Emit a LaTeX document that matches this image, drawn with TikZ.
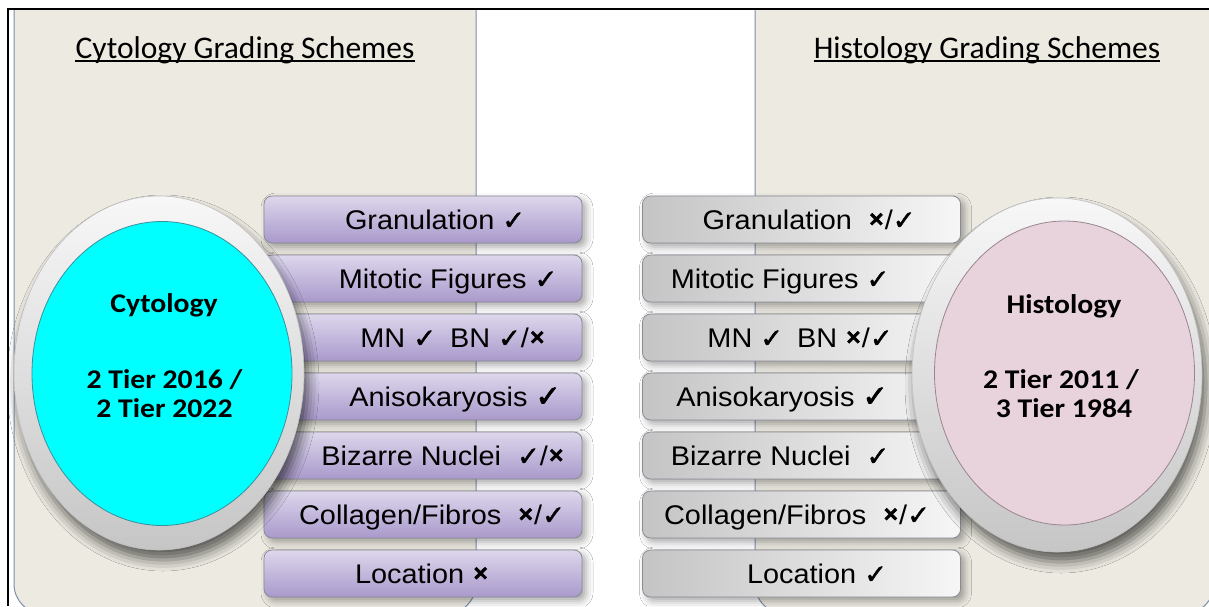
\documentclass[tikz,border=0pt]{standalone}
\usepackage{fontspec}
\setmainfont{Liberation Sans}
\newfontfamily\boxfont[FakeStretch=1.07]{Liberation Sans}
\newfontfamily\titlefont{Carlito}
\newfontfamily\ellfont[FakeStretch=1.1]{Carlito}
\newfontfamily\symfont[FakeBold=1.6]{DejaVu Sans}
\newfontfamily\symfontb[FakeBold=2.5]{DejaVu Sans}
\newfontfamily\symfontx[FakeBold=3.5]{DejaVu Sans}
\usetikzlibrary{shapes.geometric,shadows.blur}

\definecolor{panelfill}{HTML}{ECEAE1}
\definecolor{panelline}{HTML}{7D8FAA}
\definecolor{purtop}{HTML}{DDD7EC}
\definecolor{purbot}{HTML}{A999CB}
\definecolor{boxline}{HTML}{8A8A96}
\definecolor{grayleft}{HTML}{C4C4C4}
\definecolor{grayright}{HTML}{F6F6F6}
\definecolor{cyanfill}{HTML}{00FFFF}
\definecolor{cyanline}{HTML}{3C8E9C}
\definecolor{pinkfill}{HTML}{E8D2DC}
\definecolor{pinkline}{HTML}{9A8590}

\newcommand\ck{{\symfont ✓}}
\newcommand\ckb{{\symfontb\fontsize{30}{30}\selectfont ✓}}
\newcommand\xm{{\symfontx\bfseries\fontsize{20}{20}\selectfont\raisebox{4pt}{×}}}

\begin{document}
\begin{tikzpicture}[x=1pt,y=-1pt,
  boxbase/.style={draw=boxline, line width=0.8pt, rounded corners=8pt,
    minimum width=318pt, minimum height=47pt, inner sep=0pt,
    blur shadow={shadow xshift=4pt, shadow yshift=-4pt, shadow blur radius=7pt, shadow opacity=35}},
  purbox/.style={boxbase, top color=purtop, bottom color=purbot},
  graybox/.style={boxbase, left color=grayleft, right color=grayright},
  btext/.style={font=\boxfont\fontsize{27}{27}\selectfont, inner sep=0pt, anchor=base},
  ttext/.style={font=\titlefont\fontsize{31.5}{31.5}\selectfont, inner sep=0pt, anchor=base},
  etext/.style={font=\ellfont\bfseries\fontsize{27}{27}\selectfont, inner sep=0pt, anchor=base},
  ring/.style={ellipse, minimum width=290pt, minimum height=354pt, inner sep=0pt,
    top color=gray!6, bottom color=gray!45, draw=gray!50, line width=0.6pt,
    blur shadow={shadow xshift=4pt, shadow yshift=-10pt, shadow blur radius=11pt, shadow opacity=60}},
  core/.style={ellipse, minimum width=260pt, minimum height=304pt, inner sep=0pt, line width=0.8pt},
  panel/.style={draw=panelline, fill=panelfill, line width=1pt, rounded corners=30pt}
]
\useasboundingbox (0,0) rectangle (1209,606);
\clip (0,0) rectangle (1209,606);
\fill[white] (0,0) rectangle (1209,606);

% panels
\draw[panel] (14,9) -- (14,614) -- (476,614) -- (476,9);
\draw[panel] (755,9) -- (755,614) -- (1214,614) -- (1214,9);

% frame
\draw[line width=2.2pt] (8,606) -- (8,9) -- (1209,9);

% titles
\node[ttext] (tl) at (245,58) {Cytology Grading Schemes};
\node[ttext] (tr) at (987,58) {Histology Grading Schemes};
\draw[line width=1.3pt] ([yshift=-3pt]tl.base west) -- ([yshift=-3pt]tl.base east);
\draw[line width=1.3pt] ([yshift=-3pt]tr.base west) -- ([yshift=-3pt]tr.base east);

% left boxes
\node[purbox] (l1) at (423,219.5) {};
\node[purbox] (l2) at (423,278.5) {};
\node[purbox] (l3) at (423,337.5) {};
\node[purbox] (l4) at (423,396.5) {};
\node[purbox] (l5) at (423,455.5) {};
\node[purbox] (l6) at (423,514.5) {};
\node[purbox] (l7) at (423,573.5) {};
% right boxes
\node[graybox] (r1) at (801.5,219.5) {};
\node[graybox] (r2) at (801.5,278.5) {};
\node[graybox] (r3) at (801.5,337.5) {};
\node[graybox] (r4) at (801.5,396.5) {};
\node[graybox] (r5) at (801.5,455.5) {};
\node[graybox] (r6) at (801.5,514.5) {};
\node[graybox] (r7) at (801.5,573.5) {};

% box texts
\node[btext] (lt1) at (435,229.5) {Granulation \ck};
\node[btext] (lt2) at (448,288.5) {Mitotic Figures \ck};
\node[btext] (lt3) at (453,347.5) {MN \ck\hspace{14pt}BN \ck/\xm};
\node[btext] (lt4) at (455,406.5) {Anisokaryosis \ckb};
\node[btext] (lt5) at (443,465.5) {Bizarre Nuclei\hspace{8pt} \ck/\xm};
\node[btext] (lt6) at (432,524.5) {Collagen/Fibros\hspace{8pt} \xm/\ck};
\node[btext] (lt7) at (422,583.5) {Location \xm};

\node[btext] (rt1) at (809,229.5) {Granulation\hspace{8pt} \xm/\ck};
\node[btext] (rt2) at (780,288.5) {Mitotic Figures \ck};
\node[btext] (rt3) at (800,347.5) {MN \ck\hspace{14pt}BN \xm/\ck};
\node[btext] (rt4) at (782,406.5) {Anisokaryosis \ckb};
\node[btext] (rt5) at (780,465.5) {Bizarre Nuclei\hspace{8pt} \ck};
\node[btext] (rt6) at (797,524.5) {Collagen/Fibros\hspace{8pt} \xm/\ck};
\node[btext] (rt7) at (817,583.5) {Location \ck};

% ellipses
\node[ring] (lring) at (159,373) {};
\node[core, fill=cyanfill, draw=cyanline] (lcore) at (162,373.5) {};
\node[etext] (lc1) at (164,312) {Cytology};
\node[etext] (lc2) at (164.5,388) {2 Tier 2016 /};
\node[etext] (lc3) at (164.5,417) {2 Tier 2022};

\node[ring] (rring) at (1057,375) {};
\node[core, fill=pinkfill, draw=pinkline] (rcore) at (1064.5,373) {};
\node[etext] (rc1) at (1064,313) {Histology};
\node[etext] (rc2) at (1061,388) {2 Tier 2011 /};
\node[etext] (rc3) at (1064,417) {3 Tier 1984};
\end{tikzpicture}
\end{document}
